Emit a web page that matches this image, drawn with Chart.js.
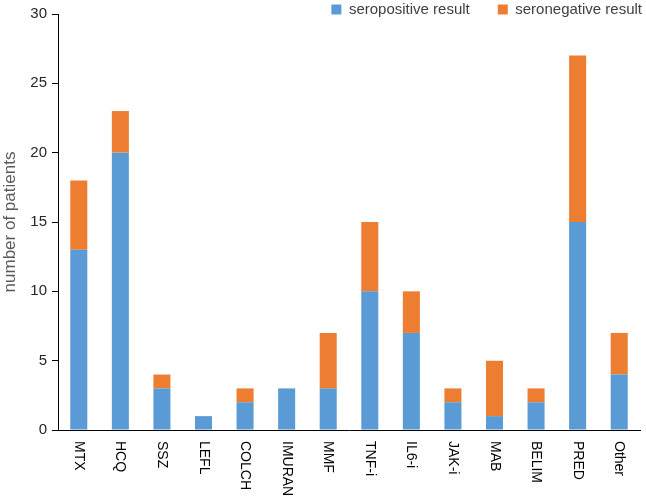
<!DOCTYPE html>
<html>
<head>
<meta charset="utf-8">
<script src="https://cdn.jsdelivr.net/npm/chart.js@4"></script>
<style>
  html, body { margin: 0; padding: 0; background: #fff; }
  #wrap { width: 646px; height: 500px; position: relative; }
</style>
</head>
<body>
<div id="wrap"><canvas id="chart"></canvas></div>
<script>
const categories = ['MTX', 'HCQ', 'SSZ', 'LEFL', 'COLCH', 'IMURAN', 'MMF', 'TNF-i', 'IL6-i', 'JAK-i', 'MAB', 'BELIM', 'PRED', 'Other'];
const seropositive = [13, 20, 3, 1, 2, 3, 3, 10, 7, 2, 1, 2, 15, 4];
const seronegative = [5, 3, 1, 0, 1, 0, 4, 5, 3, 1, 4, 1, 12, 3];
const yTicks = [0, 5, 10, 15, 20, 25, 30];

const FONT = "'Liberation Sans', Arial, sans-serif";

// category labels read top-to-bottom (rotated clockwise), so draw them here
const xLabels = {
  id: 'xLabels',
  afterDraw(chart) {
    const x = chart.scales.x;
    const ctx = chart.ctx;
    ctx.save();
    ctx.font = '14px ' + FONT;
    ctx.fillStyle = '#000';
    ctx.textAlign = 'left';
    ctx.textBaseline = 'middle';
    chart.data.labels.forEach((lab, i) => {
      ctx.save();
      ctx.translate(x.getPixelForValue(i), x.top + 11);
      ctx.rotate(Math.PI / 2);
      ctx.fillText(lab, 0, 0);
      ctx.restore();
    });
    ctx.restore();
  }
};

// pull legend up into the top-right corner (and give it room so it isn't clipped)
const legendShift = {
  id: 'legendShift',
  afterLayout(chart) {
    const lg = chart.legend;
    lg.top = -26;
    lg.bottom = 30;
    lg.height = 56;
    lg.left += 30; lg.right += 30;
  }
};

new Chart(document.getElementById('chart'), {
  type: 'bar',
  data: {
    labels: categories,
    datasets: [
      { label: 'seropositive result', data: seropositive, backgroundColor: '#5B9BD5', barPercentage: 0.41, categoryPercentage: 1 },
      { label: 'seronegative result', data: seronegative, backgroundColor: '#ED7D31', barPercentage: 0.41, categoryPercentage: 1 }
    ]
  },
  plugins: [xLabels, legendShift],
  options: {
    responsive: true,
    maintainAspectRatio: false,
    animation: false,
    layout: { padding: { top: 0, right: 6, bottom: 0, left: 0 } },
    plugins: {
      legend: {
        position: 'top',
        align: 'end',
        maxHeight: 13,
        labels: {
          boxWidth: 10, boxHeight: 10, padding: 28,
          color: '#404040',
          font: { family: FONT, size: 15 }
        }
      },
      tooltip: { enabled: false }
    },
    scales: {
      x: {
        stacked: true,
        grid: { display: false },
        border: { color: '#000', width: 1 },
        ticks: { display: false },
        afterFit(s) { s.height = 70; }
      },
      y: {
        stacked: true,
        min: 0, max: 30,
        afterBuildTicks(s) { s.ticks = yTicks.map(v => ({ value: v })); },
        grid: { drawOnChartArea: false, drawTicks: true, tickLength: 6, color: '#000' },
        border: { color: '#000', width: 1 },
        ticks: { padding: 5, color: '#262626', font: { family: FONT, size: 15 } },
        title: {
          display: true, text: 'number of patients', color: '#595959',
          font: { family: FONT, size: 17 }, padding: { top: 0, bottom: 4 }
        },
        afterFit(s) { s.width = 58; }
      }
    }
  }
});
</script>
</body>
</html>
